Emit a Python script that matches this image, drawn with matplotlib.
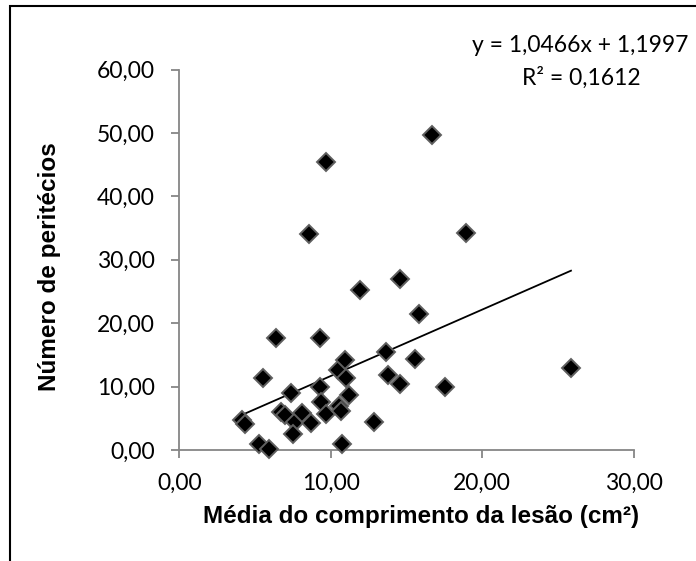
import numpy as np
import matplotlib
matplotlib.use("Agg")
import matplotlib.pyplot as plt
from matplotlib.patches import Rectangle

# Dados
media_lesao = [4.11, 4.33, 5.27, 5.93, 5.54, 6.42, 6.75, 6.97, 7.41, 7.63,
               7.52, 8.13, 8.73, 8.57, 9.32, 9.32, 9.39, 9.67, 9.68, 10.48,
               10.55, 10.70, 10.75, 10.97, 11.03, 11.21, 11.96, 12.86, 13.63,
               13.78, 14.60, 14.60, 15.60, 15.82, 16.70, 17.58, 18.95, 25.87]
peritecios = [4.74, 4.10, 0.95, 0.10, 11.30, 17.60, 6.05, 5.50, 8.95, 4.47,
              2.50, 5.90, 4.20, 34.10, 17.60, 10.00, 7.60, 5.70, 45.40, 12.60,
              6.95, 6.20, 0.95, 14.20, 11.30, 8.70, 25.30, 4.47, 15.50,
              11.85, 10.40, 27.00, 14.30, 21.50, 49.60, 10.00, 34.20, 13.00]

coef_a = 1.0466
coef_b = 1.1997
x_ticks = [0, 10, 20, 30]
y_ticks = [0, 10, 20, 30, 40, 50, 60]

W, H = 696, 561
fig = plt.figure(figsize=(6.96, 5.61), dpi=100)
ax = fig.add_axes([179.3 / W, 1 - 450 / H, (633.5 - 179.3) / W, (450 - 69.5) / H])

ax.plot(media_lesao, peritecios, linestyle="none", marker="D", markersize=9.5,
        markerfacecolor="black", markeredgecolor="#5f5f5f", markeredgewidth=1.4,
        zorder=3, clip_on=False)

xl = np.array([min(media_lesao), max(media_lesao)])
ax.plot(xl, coef_a * xl + coef_b, color="black", linewidth=1.3, zorder=2)

ax.set_xlim(0, 30)
ax.set_ylim(0, 60)
ax.set_xticks(x_ticks)
ax.set_yticks(y_ticks)
ax.set_xticklabels([f"{v:.2f}".replace(".", ",") for v in x_ticks])
ax.set_yticklabels([f"{v:.2f}".replace(".", ",") for v in y_ticks])

for s in ["top", "right"]:
    ax.spines[s].set_visible(False)
for s in ["left", "bottom"]:
    ax.spines[s].set_color("#868686")
    ax.spines[s].set_linewidth(1.3)
ax.tick_params(axis="both", color="#868686", width=1.3, length=5.8,
               labelsize=16.5, labelcolor="black")
ax.tick_params(axis="x", pad=11)
ax.tick_params(axis="y", pad=12)
for lab in ax.get_xticklabels() + ax.get_yticklabels():
    lab.set_fontfamily("Lato")

fig.text(421 / W, 1 - 517 / H, "Média do comprimento da lesão (cm²)",
         ha="center", va="center", fontsize=17.5, fontweight="bold",
         family="Liberation Sans")
fig.text(50 / W, 1 - 267 / H, "Número de peritécios", rotation=90,
         ha="center", va="center", fontsize=17.5, fontweight="bold",
         family="Liberation Sans")

fig.text(580 / W, 1 - 52 / H, "y = 1,0466x + 1,1997", ha="center",
         va="baseline", fontsize=16.5, family="Lato")
fig.text(581.7 / W, 1 - 85 / H, "R² = 0,1612", ha="center",
         va="baseline", fontsize=16.5, family="Lato")

# moldura do gráfico
fig.patches.append(Rectangle((9.5 / W, -0.1), 1.2, 1.1 - 5.7 / H,
                             transform=fig.transFigure, fill=False,
                             edgecolor="black", linewidth=1.5))

fig.savefig("out.png", dpi=100)
